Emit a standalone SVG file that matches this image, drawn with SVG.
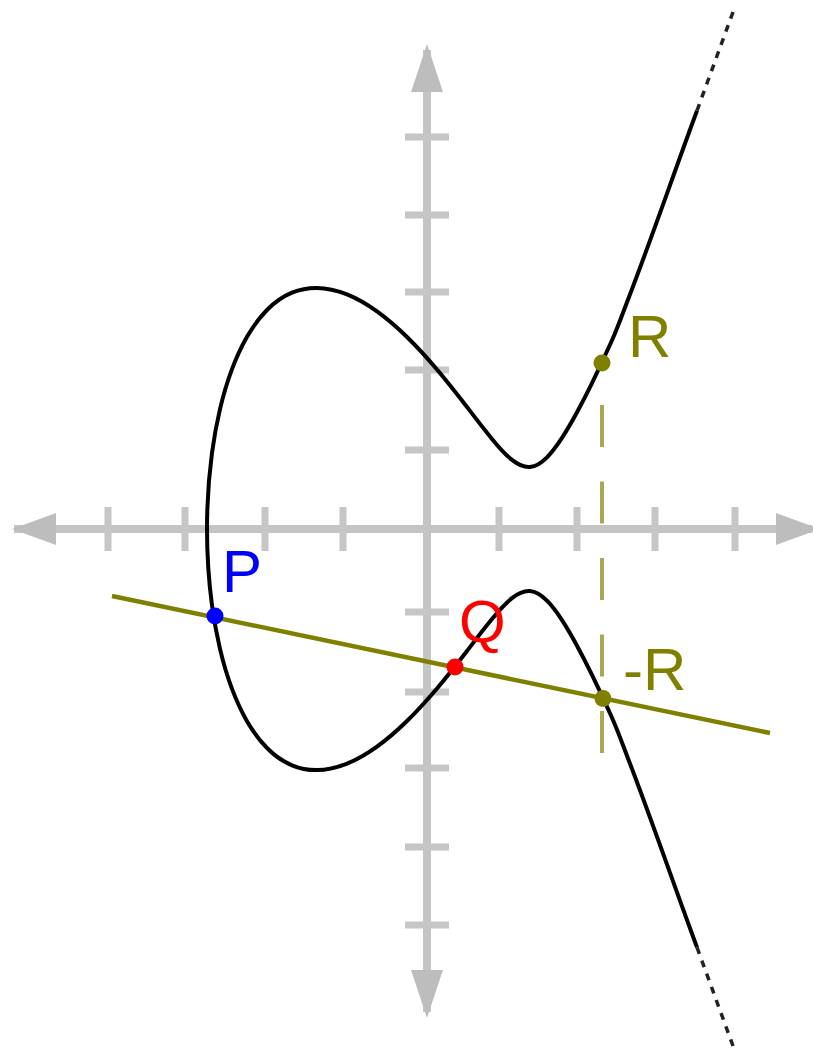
<svg xmlns="http://www.w3.org/2000/svg" xmlns:xlink="http://www.w3.org/1999/xlink" width="813" height="1055" viewBox="0 0 813 1055">
<style>
.axis{stroke:#c4c4c4;stroke-width:8;fill:none}
.tick{stroke:#c6c6c6;stroke-width:7;fill:none}
.arrow{fill:#bdbdbd}
.curve{stroke:#000;stroke-width:4;fill:none}
.dots{stroke:#222;stroke-width:3.5;fill:none;stroke-dasharray:7 7}
.secant{stroke:#808000;stroke-width:4.5;fill:none}
.vdash{stroke:#a9a955;stroke-width:4;fill:none;stroke-dasharray:42 34.5}
.lbl{font-family:"Liberation Sans",Arial,sans-serif;font-size:60px}
</style>
<defs>
<g id="branch">
<path class="curve" d="M207,529 C207,503.5 208.6,478 212,452.7 C214,438.1 216.6,423.5 220,409.1 C223.2,395.5 227.1,382.1 232,369.1 C236.2,358 241.1,347.1 247,336.8 C252.6,327.2 259.1,317.9 267,310 C274.1,302.8 282.6,296.6 292,292.7 C299.8,289.4 308.5,287.8 317,287.9 C327.2,288 337.5,290.6 347,294.4 C357.7,298.7 367.7,304.7 377,311.4 C387.7,319.1 397.6,327.8 407,337 C417.5,347.3 427.5,358.3 437,369.5 C447.3,381.7 457.2,394.3 467,407 C475.2,417.7 483.4,428.5 492,438.9 C498.1,446.4 504.4,453.9 512,459.9 C517,463.9 523.6,467.5 530,467 C536.5,466.4 542.4,461.9 547,457.3 C552.7,451.5 557.5,444.8 562,437.9 C567.4,429.6 572.3,421 577,412.3 C582.2,402.7 587.2,392.9 592,383.1 C598.9,369 605.6,354.7 612,340.3 C618.3,326.2 623.4,311.5 629,297 C650.6,240.7 670.3,183.6 691,127 L697,110.6"/>
<path class="dots" d="M697,110.6 L735,6.6"/>
</g>
</defs>
<g id="axes">
<line class="axis" x1="14" y1="529" x2="812" y2="529"/>
<line class="axis" x1="427" y1="50" x2="427" y2="1012"/>
<polygon class="arrow" points="12,529 56,513 56,545"/>
<polygon class="arrow" points="820,529 776,513 776,545"/>
<polygon class="arrow" points="427,44 411,92 443,92"/>
<polygon class="arrow" points="427,1018 411,970 443,970"/>
<path class="tick" d="M108,507 V551 M185,507 V551 M265,507 V551 M343,507 V551 M499,507 V551 M577,507 V551 M655,507 V551 M735,507 V551"/>
<path class="tick" d="M405,137 H449 M405,215 H449 M405,292 H449 M405,370 H449 M405,450 H449 M405,612 H449 M405,692 H449 M405,768 H449 M405,847 H449 M405,925 H449"/>
</g>
<g id="curve">
<use xlink:href="#branch" href="#branch"/>
<use xlink:href="#branch" href="#branch" transform="matrix(1,0,0,-1,0,1058)"/>
</g>
<g id="connectors">
<line class="vdash" x1="602" y1="405" x2="602" y2="753"/>
<line class="secant" x1="112" y1="596" x2="770" y2="733"/>
</g>
<g id="P">
<circle cx="215" cy="616" r="8.5" fill="#0000ff"/>
<text class="lbl" x="222" y="592" fill="#0000ff">P</text>
</g>
<g id="Q">
<circle cx="455" cy="667" r="8.5" fill="#ff0000"/>
<text class="lbl" x="459" y="642" fill="#ff0000">Q</text>
</g>
<g id="R">
<circle cx="602" cy="363" r="8.5" fill="#808000"/>
<text class="lbl" x="628" y="357" fill="#808000">R</text>
</g>
<g id="negR">
<circle cx="603" cy="698.5" r="8.5" fill="#808000"/>
<text class="lbl" x="623" y="690" fill="#808000">-R</text>
</g>
</svg>
